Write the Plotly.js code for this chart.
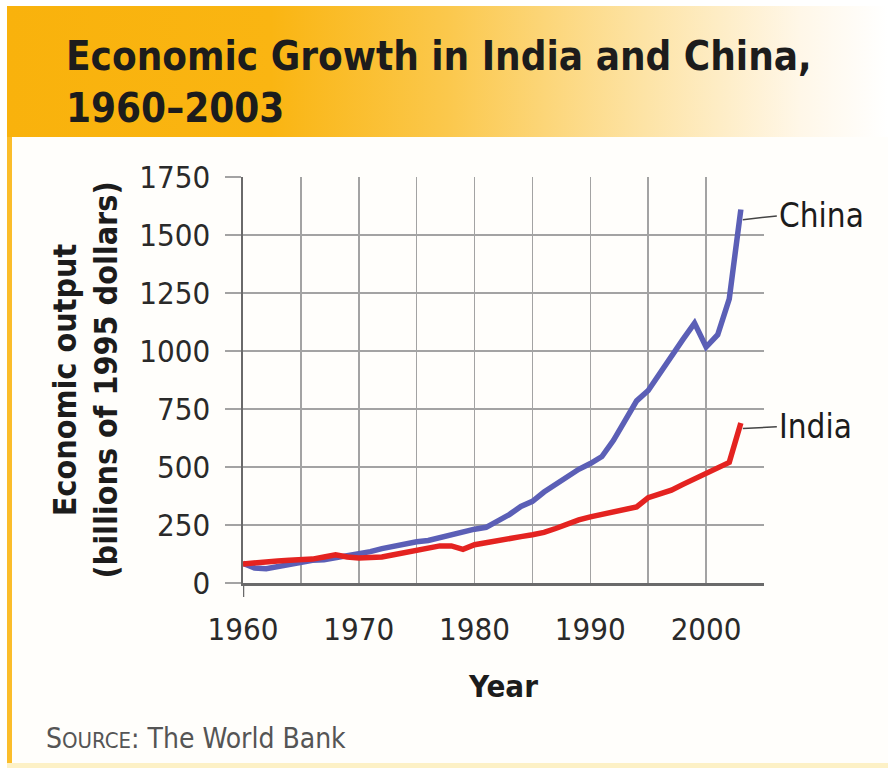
<!DOCTYPE html>
<html>
<head>
<meta charset="utf-8">
<script src="https://cdn.plot.ly/plotly-3.0.1.min.js"></script>
<style>
  html, body { margin: 0; padding: 0; width: 888px; height: 768px; overflow: hidden; background: #ffffff; }
  #frame { position: absolute; left: 0; top: 0; width: 888px; height: 768px; background: #ffffff; }
  #header { position: absolute; left: 7px; top: 6px; width: 881px; height: 131px;
    background: linear-gradient(to right, #f9b20c 0%, #fab512 30%, #fbc84c 50%, #fde3a4 72%, #fff7e8 90%, #ffffff 100%); }
  #leftstrip { position: absolute; left: 7px; top: 137px; width: 5px; height: 626px; background: #fbbd2a; }
  #bottomstrip { position: absolute; left: 7px; top: 763px; width: 881px; height: 5px; background: #fdf1c6; }
  #content { position: absolute; left: 12px; top: 137px; width: 876px; height: 626px; background: #fffefb; }
  #chart { position: absolute; left: 0; top: 0; width: 888px; height: 768px; }
</style>
</head>
<body>
<div id="frame">
  <div id="header"></div>
  <div id="leftstrip"></div>
  <div id="content"></div>
  <div id="bottomstrip"></div>
</div>
<div id="chart"></div>
<script>
// ---- data ----
const years = [1960,1961,1962,1963,1964,1965,1966,1967,1968,1969,
               1970,1971,1972,1973,1974,1975,1976,1977,1978,1979,
               1980,1981,1982,1983,1984,1985,1986,1987,1988,1989,
               1990,1991,1992,1993,1994,1995,1996,1997,1998,1999,
               2000,2001,2002,2003];
const china = [85,65,62,70,80,90,98,100,108,118,
               125,135,148,160,168,178,183,195,208,225,
               232,240,265,295,330,352,392,425,455,490,
               515,545,615,695,785,830,905,985,1050,1120,
               1017,1070,1225,1610];
const india = [82,88,90,95,98,100,103,112,122,112,
               108,110,112,122,132,142,148,160,160,145,
               165,175,185,192,200,208,218,235,255,272,
               285,295,308,318,328,368,382,400,425,450,
               474,500,520,690];
const yTicks = [0,250,500,750,1000,1250,1500,1750];
const xTickVals = [1960,1970,1980,1990,2000];
const xTickText = ["1960","1970","1980","1990","2000"];
const seriesNames = ["China","India"];

// ---- layout helpers ----
const W = 888, H = 768;
const L = 243, R = 764, T = 177, B = 583;
const px = x => (x - L) / (R - L);
const py = y => (B - y) / (B - T);

const FONT = "DejaVu Sans Condensed, Liberation Sans, sans-serif";

const traces = [
  { x: years, y: china, name: seriesNames[0], type: "scatter", mode: "lines",
    line: { color: "#5b5fb6", width: 5.5 }, hoverinfo: "skip" },
  { x: years, y: india, name: seriesNames[1], type: "scatter", mode: "lines",
    line: { color: "#e42320", width: 5.5 }, hoverinfo: "skip" }
];

const layout = {
  width: W, height: H,
  paper_bgcolor: "rgba(0,0,0,0)",
  plot_bgcolor: "rgba(0,0,0,0)",
  showlegend: false,
  margin: { l: L, r: W - R, t: T, b: H - B, pad: 0 },
  font: { family: FONT, color: "#333333" },
  title: {
    text: "<b>Economic Growth in India and China,</b><br><b>1960–2003</b>",
    font: { family: FONT, size: 40, color: "#1c1c1c" },
    xref: "container", yref: "container",
    x: 66 / W, xanchor: "left",
    y: 1 - 70 / H, yanchor: "middle"
  },
  xaxis: {
    range: [1960, 2005],
    tickvals: xTickVals, ticktext: xTickText,
    ticks: "", ticklabelstandoff: 17,
    tickfont: { family: FONT, size: 31, color: "#2a2a2a" },
    showgrid: true, gridcolor: "#a3a3a3", gridwidth: 1.6,
    minor: { dtick: 5, tick0: 1960, showgrid: true, gridcolor: "#a3a3a3", gridwidth: 1.6, ticks: "" },
    showline: true, linecolor: "#6a6a6a", linewidth: 2.5,
    zeroline: false, fixedrange: true,
    title: { text: "<b>Year</b>", font: { family: FONT, size: 31, color: "#1c1c1c" }, standoff: 30 }
  },
  yaxis: {
    range: [0, 1750],
    tickvals: yTicks,
    ticks: "outside", ticklen: 16, tickwidth: 1.6, tickcolor: "#a3a3a3",
    ticklabelstandoff: 8,
    tickfont: { family: FONT, size: 31, color: "#2a2a2a" },
    showgrid: true, gridcolor: "#a3a3a3", gridwidth: 1.6,
    showline: true, linecolor: "#6a6a6a", linewidth: 2.5,
    zeroline: false, fixedrange: true,
    title: { text: "<b>Economic output</b><br><b>(billions of 1995 dollars)</b>",
             font: { family: FONT, size: 32, color: "#1c1c1c" }, standoff: 12 }
  },
  shapes: [
    { type: "line", xref: "x", yref: "paper", x0: 1960, x1: 1960, y0: 0, y1: -14 / (B - T),
      line: { color: "#6a6a6a", width: 2.5 } }
  ],
  annotations: [
    { text: "S<span style='font-size:22px'>OURCE</span>: The World Bank",
      xref: "paper", yref: "paper", x: px(44), y: py(738),
      xanchor: "left", yanchor: "middle", showarrow: false,
      font: { family: FONT, size: 28, color: "#555555" } },
    { text: seriesNames[0], xref: "x", yref: "y", x: 2003, y: 1565,
      ax: 36, ay: -4, xanchor: "left", yanchor: "middle",
      showarrow: true, arrowhead: 0, arrowwidth: 1.5, arrowcolor: "#444444", standoff: 2,
      font: { family: FONT, size: 33, color: "#1c1c1c" } },
    { text: seriesNames[1], xref: "x", yref: "y", x: 2003, y: 665,
      ax: 36, ay: -2, xanchor: "left", yanchor: "middle",
      showarrow: true, arrowhead: 0, arrowwidth: 1.5, arrowcolor: "#444444", standoff: 2,
      font: { family: FONT, size: 33, color: "#1c1c1c" } }
  ]
};

Plotly.newPlot("chart", traces, layout, { displayModeBar: false, staticPlot: true });
</script>
</body>
</html>
